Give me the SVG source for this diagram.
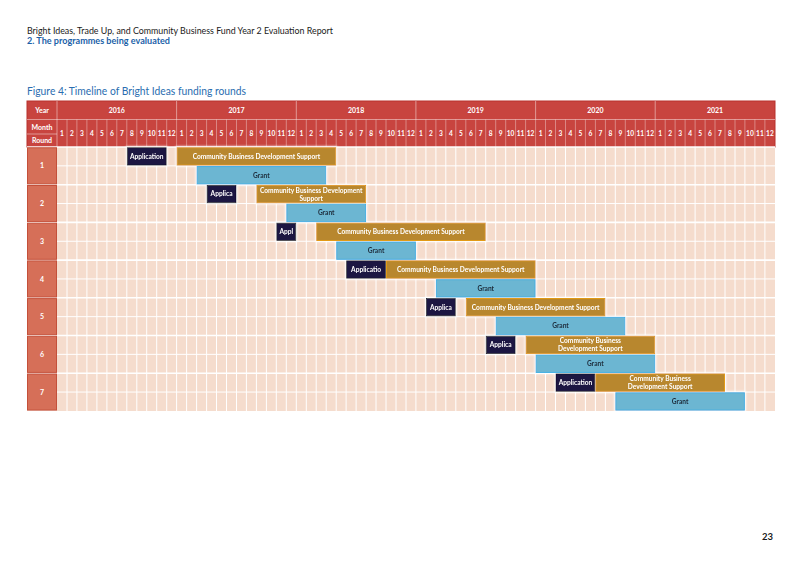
<svg xmlns="http://www.w3.org/2000/svg" width="800" height="566" viewBox="0 0 800 566">
<defs>
<style>
.f{font-family:Lato,"Open Sans","Liberation Sans",sans-serif}
.hd{font-family:Lato,"Open Sans","Liberation Sans",sans-serif;font-weight:700;font-size:7px;fill:#fff;text-anchor:middle}
.mn{font-family:Lato,"Open Sans","Liberation Sans",sans-serif;font-weight:700;font-size:6.6px;fill:#fff;text-anchor:middle}
.bt{font-family:Lato,"Open Sans","Liberation Sans",sans-serif;font-weight:700;font-size:6.6px;text-anchor:middle}
.app{fill:#1f1742;stroke:#0e0a28;stroke-width:0.8}
.cb{fill:#b8872f;stroke:#e29a18;stroke-width:1}
.gr{fill:#6cb6d2;stroke:#3cb0e4;stroke-width:1}
.w{fill:#fff}
.k{fill:#1d2b3a}
.rl{fill:#d66f58;stroke:#c4503a;stroke-width:1}
</style>
<filter id="glow" x="-20%" y="-40%" width="140%" height="180%">
<feMorphology in="SourceAlpha" operator="dilate" radius="1" result="d"/>
<feGaussianBlur in="d" stdDeviation="1.2" result="b"/>
<feFlood flood-color="#ffffff" flood-opacity="0.9"/>
<feComposite in2="b" operator="in" result="g"/>
<feMerge><feMergeNode in="g"/><feMergeNode in="SourceGraphic"/></feMerge>
</filter>
</defs>
<rect width="800" height="566" fill="#ffffff"/>

<g id="page-text">
<text class="f" x="27" y="33.5" font-size="9.5" fill="#1a1a1a" textLength="306" lengthAdjust="spacingAndGlyphs">Bright Ideas, Trade Up, and Community Business Fund Year 2 Evaluation Report</text>
<text class="f" x="27" y="44" font-size="9.3" font-weight="700" fill="#1b5fa8" textLength="143" lengthAdjust="spacingAndGlyphs">2. The programmes being evaluated</text>
<text class="f" x="27" y="95" font-size="11.2" fill="#2a6db0" textLength="219" lengthAdjust="spacingAndGlyphs">Figure 4: Timeline of Bright Ideas funding rounds</text>
<text class="f" x="773" y="539.5" font-size="9.5" font-weight="700" fill="#1a1a1a" text-anchor="end">23</text>
</g>

<g id="header">
<rect x="27" y="101" width="748" height="46" fill="#c8443f" stroke="#b8302c" stroke-width="1"/>
<path d="M27 119.5H775 M27 134H57" stroke="#ffffff" stroke-opacity="0.45" stroke-width="1" fill="none"/>
<path d="M57 101V147 M176.6 101V119.5 M296.3 101V119.5 M415.9 101V119.5 M535.6 101V119.5 M655.2 101V119.5" stroke="#ffffff" stroke-opacity="0.45" stroke-width="1" fill="none"/>
<path d="M67 119.5V147M76.9 119.5V147M86.9 119.5V147M96.9 119.5V147M106.9 119.5V147M116.8 119.5V147M126.8 119.5V147M136.8 119.5V147M146.7 119.5V147M156.7 119.5V147M166.7 119.5V147M176.6 119.5V147M186.6 119.5V147M196.6 119.5V147M206.6 119.5V147M216.5 119.5V147M226.5 119.5V147M236.5 119.5V147M246.4 119.5V147M256.4 119.5V147M266.4 119.5V147M276.3 119.5V147M286.3 119.5V147M296.3 119.5V147M306.3 119.5V147M316.2 119.5V147M326.2 119.5V147M336.2 119.5V147M346.1 119.5V147M356.1 119.5V147M366.1 119.5V147M376 119.5V147M386 119.5V147M396 119.5V147M406 119.5V147M415.9 119.5V147M425.9 119.5V147M435.9 119.5V147M445.8 119.5V147M455.8 119.5V147M465.8 119.5V147M475.7 119.5V147M485.7 119.5V147M495.7 119.5V147M505.7 119.5V147M515.6 119.5V147M525.6 119.5V147M535.6 119.5V147M545.5 119.5V147M555.5 119.5V147M565.5 119.5V147M575.4 119.5V147M585.4 119.5V147M595.4 119.5V147M605.4 119.5V147M615.3 119.5V147M625.3 119.5V147M635.3 119.5V147M645.2 119.5V147M655.2 119.5V147M665.2 119.5V147M675.1 119.5V147M685.1 119.5V147M695.1 119.5V147M705.1 119.5V147M715 119.5V147M725 119.5V147M735 119.5V147M744.9 119.5V147M754.9 119.5V147M764.9 119.5V147" stroke="#ffffff" stroke-opacity="0.45" stroke-width="0.8" fill="none"/>
<text class="hd" x="42" y="113">Year</text>
<text class="hd" x="42" y="129.5">Month</text>
<text class="hd" x="42" y="143">Round</text>
<text class="hd" x="116.8" y="113">2016</text>
<text class="hd" x="236.5" y="113">2017</text>
<text class="hd" x="356.1" y="113">2018</text>
<text class="hd" x="475.7" y="113">2019</text>
<text class="hd" x="595.4" y="113">2020</text>
<text class="hd" x="715" y="113">2021</text>
<g id="months">
<text class="mn" x="62" y="135.8">1</text><text class="mn" x="72" y="135.8">2</text><text class="mn" x="81.9" y="135.8">3</text><text class="mn" x="91.9" y="135.8">4</text><text class="mn" x="101.9" y="135.8">5</text><text class="mn" x="111.8" y="135.8">6</text><text class="mn" x="121.8" y="135.8">7</text><text class="mn" x="131.8" y="135.8">8</text><text class="mn" x="141.8" y="135.8">9</text><text class="mn" x="151.7" y="135.8">10</text><text class="mn" x="161.7" y="135.8">11</text><text class="mn" x="171.7" y="135.8">12</text>
<text class="mn" x="181.6" y="135.8">1</text><text class="mn" x="191.6" y="135.8">2</text><text class="mn" x="201.6" y="135.8">3</text><text class="mn" x="211.5" y="135.8">4</text><text class="mn" x="221.5" y="135.8">5</text><text class="mn" x="231.5" y="135.8">6</text><text class="mn" x="241.5" y="135.8">7</text><text class="mn" x="251.4" y="135.8">8</text><text class="mn" x="261.4" y="135.8">9</text><text class="mn" x="271.4" y="135.8">10</text><text class="mn" x="281.3" y="135.8">11</text><text class="mn" x="291.3" y="135.8">12</text>
<text class="mn" x="301.3" y="135.8">1</text><text class="mn" x="311.2" y="135.8">2</text><text class="mn" x="321.2" y="135.8">3</text><text class="mn" x="331.2" y="135.8">4</text><text class="mn" x="341.2" y="135.8">5</text><text class="mn" x="351.1" y="135.8">6</text><text class="mn" x="361.1" y="135.8">7</text><text class="mn" x="371.1" y="135.8">8</text><text class="mn" x="381" y="135.8">9</text><text class="mn" x="391" y="135.8">10</text><text class="mn" x="401" y="135.8">11</text><text class="mn" x="410.9" y="135.8">12</text>
<text class="mn" x="420.9" y="135.8">1</text><text class="mn" x="430.9" y="135.8">2</text><text class="mn" x="440.9" y="135.8">3</text><text class="mn" x="450.8" y="135.8">4</text><text class="mn" x="460.8" y="135.8">5</text><text class="mn" x="470.8" y="135.8">6</text><text class="mn" x="480.7" y="135.8">7</text><text class="mn" x="490.7" y="135.8">8</text><text class="mn" x="500.7" y="135.8">9</text><text class="mn" x="510.6" y="135.8">10</text><text class="mn" x="520.6" y="135.8">11</text><text class="mn" x="530.6" y="135.8">12</text>
<text class="mn" x="540.6" y="135.8">1</text><text class="mn" x="550.5" y="135.8">2</text><text class="mn" x="560.5" y="135.8">3</text><text class="mn" x="570.5" y="135.8">4</text><text class="mn" x="580.4" y="135.8">5</text><text class="mn" x="590.4" y="135.8">6</text><text class="mn" x="600.4" y="135.8">7</text><text class="mn" x="610.3" y="135.8">8</text><text class="mn" x="620.3" y="135.8">9</text><text class="mn" x="630.3" y="135.8">10</text><text class="mn" x="640.3" y="135.8">11</text><text class="mn" x="650.2" y="135.8">12</text>
<text class="mn" x="660.2" y="135.8">1</text><text class="mn" x="670.2" y="135.8">2</text><text class="mn" x="680.1" y="135.8">3</text><text class="mn" x="690.1" y="135.8">4</text><text class="mn" x="700.1" y="135.8">5</text><text class="mn" x="710" y="135.8">6</text><text class="mn" x="720" y="135.8">7</text><text class="mn" x="730" y="135.8">8</text><text class="mn" x="740" y="135.8">9</text><text class="mn" x="749.9" y="135.8">10</text><text class="mn" x="759.9" y="135.8">11</text><text class="mn" x="769.9" y="135.8">12</text>
</g>
</g>

<g id="grid">
<rect x="57" y="147" width="718" height="264" fill="#f5dccd"/>
<path d="M67 147V411M76.9 147V411M86.9 147V411M96.9 147V411M106.9 147V411M116.8 147V411M126.8 147V411M136.8 147V411M146.7 147V411M156.7 147V411M166.7 147V411M176.6 147V411M186.6 147V411M196.6 147V411M206.6 147V411M216.5 147V411M226.5 147V411M236.5 147V411M246.4 147V411M256.4 147V411M266.4 147V411M276.3 147V411M286.3 147V411M296.3 147V411M306.3 147V411M316.2 147V411M326.2 147V411M336.2 147V411M346.1 147V411M356.1 147V411M366.1 147V411M376 147V411M386 147V411M396 147V411M406 147V411M415.9 147V411M425.9 147V411M435.9 147V411M445.8 147V411M455.8 147V411M465.8 147V411M475.7 147V411M485.7 147V411M495.7 147V411M505.7 147V411M515.6 147V411M525.6 147V411M535.6 147V411M545.5 147V411M555.5 147V411M565.5 147V411M575.4 147V411M585.4 147V411M595.4 147V411M605.4 147V411M615.3 147V411M625.3 147V411M635.3 147V411M645.2 147V411M655.2 147V411M665.2 147V411M675.1 147V411M685.1 147V411M695.1 147V411M705.1 147V411M715 147V411M725 147V411M735 147V411M744.9 147V411M754.9 147V411M764.9 147V411" stroke="#ffffff" stroke-width="1" fill="none"/>
<path d="M57 165.85H775M57 203.55H775M57 241.25H775M57 278.95H775M57 316.65H775M57 354.35H775M57 392.05H775" stroke="#ffffff" stroke-width="1" fill="none"/>
<path d="M27 147H775M27 184.7H775M27 222.4H775M27 260.1H775M27 297.8H775M27 335.5H775M27 373.2H775" stroke="#ffffff" stroke-width="1.6" fill="none"/>
</g>

<g id="round-labels">
<g id="round-1"><rect class="rl" x="27.5" y="147.8" width="29" height="36.1"/><text class="hd" x="42" y="168.4">1</text></g>
<g id="round-2"><rect class="rl" x="27.5" y="185.5" width="29" height="36.1"/><text class="hd" x="42" y="206.1">2</text></g>
<g id="round-3"><rect class="rl" x="27.5" y="223.2" width="29" height="36.1"/><text class="hd" x="42" y="243.8">3</text></g>
<g id="round-4"><rect class="rl" x="27.5" y="260.9" width="29" height="36.1"/><text class="hd" x="42" y="281.5">4</text></g>
<g id="round-5"><rect class="rl" x="27.5" y="298.6" width="29" height="36.1"/><text class="hd" x="42" y="319.2">5</text></g>
<g id="round-6"><rect class="rl" x="27.5" y="336.3" width="29" height="36.1"/><text class="hd" x="42" y="356.9">6</text></g>
<g id="round-7"><rect class="rl" x="27.5" y="374" width="29" height="36.1"/><text class="hd" x="42" y="394.6">7</text></g>
</g>

<g id="bars" filter="url(#glow)">
<g id="r1-app"><rect class="app" x="127.3" y="147.7" width="38.9" height="17.4"/><text class="bt w" x="146.75" y="158.7">Application</text></g>
<g id="r1-cbds"><rect class="cb" x="177.1" y="147.7" width="158.6" height="17.4"/><text class="bt w" x="256.4" y="158.7">Community Business Development Support</text></g>
<g id="r1-grant"><rect class="gr" x="197.1" y="166.55" width="128.6" height="17.4"/><text class="bt k" x="261.4" y="177.6">Grant</text></g>

<g id="r2-app"><rect class="app" x="207.1" y="185.4" width="28.9" height="17.4"/><text class="bt w" x="221.55" y="196.4">Applica</text></g>
<g id="r2-cbds"><rect class="cb" x="256.9" y="185.4" width="108.7" height="17.4"/><text class="bt w" x="311.25" y="192.5">Community Business Development</text><text class="bt w" x="311.25" y="200.5">Support</text></g>
<g id="r2-grant"><rect class="gr" x="286.8" y="204.25" width="78.8" height="17.4"/><text class="bt k" x="326.2" y="215.3">Grant</text></g>

<g id="r3-app"><rect class="app" x="276.8" y="223.1" width="19" height="17.4"/><text class="bt w" x="286.3" y="234.1">Appl</text></g>
<g id="r3-cbds"><rect class="cb" x="316.7" y="223.1" width="168.5" height="17.4"/><text class="bt w" x="400.95" y="234.1">Community Business Development Support</text></g>
<g id="r3-grant"><rect class="gr" x="336.7" y="241.95" width="78.7" height="17.4"/><text class="bt k" x="376.05" y="253">Grant</text></g>

<g id="r4-app"><rect class="app" x="346.6" y="260.8" width="38.9" height="17.4"/><text class="bt w" x="366.05" y="271.8">Applicatio</text></g>
<g id="r4-cbds"><rect class="cb" x="386.5" y="260.8" width="148.6" height="17.4"/><text class="bt w" x="460.8" y="271.8">Community Business Development Support</text></g>
<g id="r4-grant"><rect class="gr" x="436.4" y="279.65" width="98.7" height="17.4"/><text class="bt k" x="485.75" y="290.7">Grant</text></g>

<g id="r5-app"><rect class="app" x="426.4" y="298.5" width="28.9" height="17.4"/><text class="bt w" x="440.85" y="309.5">Applica</text></g>
<g id="r5-cbds"><rect class="cb" x="466.3" y="298.5" width="138.6" height="17.4"/><text class="bt w" x="535.6" y="309.5">Community Business Development Support</text></g>
<g id="r5-grant"><rect class="gr" x="496.2" y="317.35" width="128.6" height="17.4"/><text class="bt k" x="560.5" y="328.4">Grant</text></g>

<g id="r6-app"><rect class="app" x="486.2" y="336.2" width="28.9" height="17.4"/><text class="bt w" x="500.65" y="347.2">Applica</text></g>
<g id="r6-cbds"><rect class="cb" x="526.1" y="336.2" width="128.6" height="17.4"/><text class="bt w" x="590.4" y="343.3">Community Business</text><text class="bt w" x="590.4" y="351.3">Development Support</text></g>
<g id="r6-grant"><rect class="gr" x="536.1" y="355.05" width="118.6" height="17.4"/><text class="bt k" x="595.4" y="366.1">Grant</text></g>

<g id="r7-app"><rect class="app" x="556" y="373.9" width="38.9" height="17.4"/><text class="bt w" x="575.45" y="384.9">Application</text></g>
<g id="r7-cbds"><rect class="cb" x="595.9" y="373.9" width="128.6" height="17.4"/><text class="bt w" x="660.2" y="381">Community Business</text><text class="bt w" x="660.2" y="389">Development Support</text></g>
<g id="r7-grant"><rect class="gr" x="615.8" y="392.75" width="128.6" height="17.4"/><text class="bt k" x="680.1" y="403.8">Grant</text></g>
</g>

<g id="connectors"/>
</svg>
